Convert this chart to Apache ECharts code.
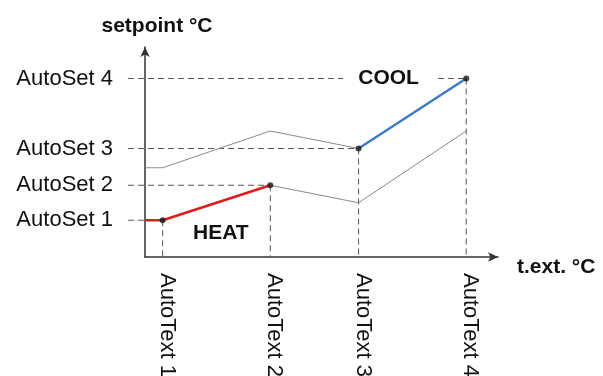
<!DOCTYPE html>
<html>
<head>
<meta charset="utf-8">
<script src="https://cdn.jsdelivr.net/npm/echarts@6/dist/echarts.min.js"></script>
<style>html,body{margin:0;padding:0;background:#fff}#c{width:603px;height:376px}</style>
</head>
<body>
<div id="c"></div>
<script>
// ---- data ----
var tickLabels = ['AutoText 1', 'AutoText 2', 'AutoText 3', 'AutoText 4'];
var setLabels = ['AutoSet 1', 'AutoSet 2', 'AutoSet 3', 'AutoSet 4'];
var tempX = [1.0, 7.1, 12.1, 18.2];          // t.ext. positions
var setpointY = [2.1, 4.1, 6.2, 10.2];       // AutoSet levels
var heatLine = [[0, 2.1], [1.0, 2.1], [7.1, 4.1]];
var coolLine = [[12.1, 6.2], [18.2, 10.2]];
var upperBand = [[0, 5.1], [1.0, 5.1], [7.1, 7.2], [12.1, 6.2]];
var lowerBand = [[7.1, 4.1], [12.1, 3.1], [18.2, 7.2]];
var annotations = [['HEAT', 4.3, 1.35], ['COOL', 13.8, 10.2]];
var xTitle = 't.ext. °C';
var yTitle = 'setpoint °C';

var FONT = '"Liberation Sans", Arial, sans-serif';
var guideData = tempX.map(function (x, i) { return [x, setpointY[i], i]; });

var chart = echarts.init(document.getElementById('c'), null, {renderer: 'canvas'});
chart.setOption({
  animation: false,
  backgroundColor: '#fff',
  grid: {left: 145, top: 47, width: 353, height: 210, containLabel: false},
  xAxis: {
    type: 'value', min: 0, max: 20,
    name: xTitle, nameLocation: 'end', nameGap: 19,
    nameTextStyle: {fontFamily: FONT, fontSize: 21, fontWeight: 'bold', color: '#111', verticalAlign: 'top', padding: [0, 0, 0, 0]},
    axisLine: {show: true, onZero: false, symbol: ['none', 'arrow'], symbolSize: [7, 10], lineStyle: {color: '#333', width: 1.5}},
    axisTick: {show: false}, axisLabel: {show: false}, splitLine: {show: false}
  },
  yAxis: {
    type: 'value', min: 0, max: 12,
    name: yTitle, nameLocation: 'end', nameGap: 10,
    nameTextStyle: {fontFamily: FONT, fontSize: 21, fontWeight: 'bold', color: '#111', padding: [0, 0, 0, 24]},
    axisLine: {show: true, onZero: false, symbol: ['none', 'arrow'], symbolSize: [7, 10], lineStyle: {color: '#333', width: 1.5}},
    axisTick: {show: false}, axisLabel: {show: false}, splitLine: {show: false}
  },
  series: [
    {
      type: 'custom', z: 1, clip: false,
      data: guideData,
      renderItem: function (params, api) {
        var i = api.value(2);
        var p = api.coord([api.value(0), api.value(1)]);
        var o = api.coord([0, 0]);
        var dash = {stroke: '#555', lineWidth: 1, lineDash: [6, 4], fill: null};
        return {type: 'group', children: [
          {type: 'line', shape: {x1: o[0] - 17, y1: p[1], x2: p[0], y2: p[1]}, style: dash},
          {type: 'line', shape: {x1: p[0], y1: p[1], x2: p[0], y2: o[1]}, style: dash},
          {type: 'text', x: o[0] - 32, y: p[1], style: {text: setLabels[i], textAlign: 'right', textVerticalAlign: 'middle', font: '22px ' + FONT, fill: '#111'}},
          {type: 'text', x: p[0] + 4, y: o[1] + 16, rotation: -Math.PI / 2, style: {text: tickLabels[i], textAlign: 'left', textVerticalAlign: 'middle', font: '22px ' + FONT, fill: '#111'}}
        ]};
      }
    },
    {type: 'line', data: upperBand, symbol: 'none', z: 2, lineStyle: {color: '#8a8a8a', width: 1}},
    {type: 'line', data: lowerBand, symbol: 'none', z: 2, lineStyle: {color: '#8a8a8a', width: 1}},
    {type: 'line', data: heatLine, symbol: 'none', z: 3, lineStyle: {color: '#e01b1b', width: 2.5}},
    {type: 'line', data: coolLine, symbol: 'none', z: 3, lineStyle: {color: '#3b7cc4', width: 2.5}},
    {
      type: 'scatter', z: 4, symbol: 'circle', symbolSize: 6,
      data: guideData.map(function (d) { return [d[0], d[1]]; }),
      itemStyle: {color: '#1a1a1a'}
    },
    {
      type: 'custom', z: 5, clip: false,
      data: annotations.map(function (a) { return [a[1], a[2]]; }),
      renderItem: function (params, api) {
        var p = api.coord([api.value(0), api.value(1)]);
        return {type: 'text', x: p[0], y: p[1], style: {
          text: annotations[params.dataIndex][0], textAlign: 'center', textVerticalAlign: 'middle',
          font: 'bold 21px ' + FONT, fill: '#111', backgroundColor: '#fff', padding: [0, 15]
        }};
      }
    }
  ]
});
</script>
</body>
</html>
